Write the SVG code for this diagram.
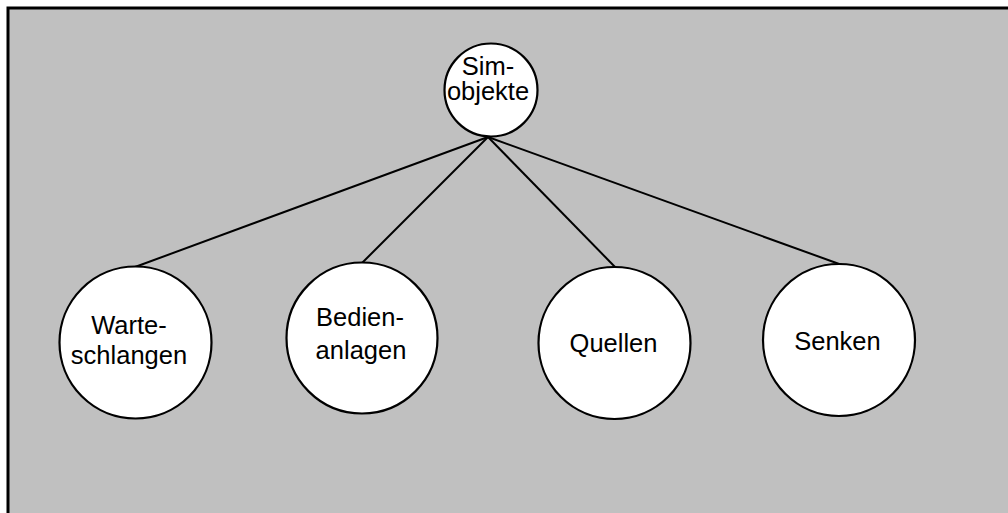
<svg xmlns="http://www.w3.org/2000/svg" width="1008" height="513" viewBox="0 0 1008 513">
  <style>
    .node { fill: #ffffff; stroke: #000000; stroke-width: 2.2; }
    .edge { stroke: #000000; stroke-width: 2; fill: none; }
    .label { font-family: "Liberation Sans", Arial, sans-serif; font-size: 25.5px; fill: #000000; text-anchor: middle; }
  </style>
  <rect x="0" y="0" width="1008" height="513" fill="#ffffff"/>
  <!-- framed grey panel, running off the right and bottom edges -->
  <rect x="8" y="8" width="1010" height="515" fill="#c0c0c0" stroke="#000000" stroke-width="3"/>

  <g id="connectors">
    <line class="edge" x1="488" y1="137" x2="135" y2="267"/>
    <line class="edge" x1="488" y1="137" x2="362" y2="263"/>
    <line class="edge" x1="488" y1="137" x2="616" y2="268"/>
    <line class="edge" x1="488" y1="137" x2="842" y2="265"/>
  </g>

  <g id="simobjekte">
    <circle class="node" cx="491" cy="90" r="46.5"/>
    <text class="label" x="488" y="75">Sim-</text>
    <text class="label" x="488" y="100">objekte</text>
  </g>

  <g id="warteschlangen">
    <circle class="node" cx="135.5" cy="342.5" r="76"/>
    <text class="label" x="129" y="334">Warte-</text>
    <text class="label" x="129" y="364">schlangen</text>
  </g>

  <g id="bedienanlagen">
    <circle class="node" cx="362" cy="338" r="75.5"/>
    <text class="label" x="360" y="326">Bedien-</text>
    <text class="label" x="361" y="359">anlagen</text>
  </g>

  <g id="quellen">
    <circle class="node" cx="614.5" cy="343" r="76"/>
    <text class="label" x="613.5" y="352">Quellen</text>
  </g>

  <g id="senken">
    <circle class="node" cx="839" cy="340" r="76"/>
    <text class="label" x="837.5" y="350">Senken</text>
  </g>
</svg>
